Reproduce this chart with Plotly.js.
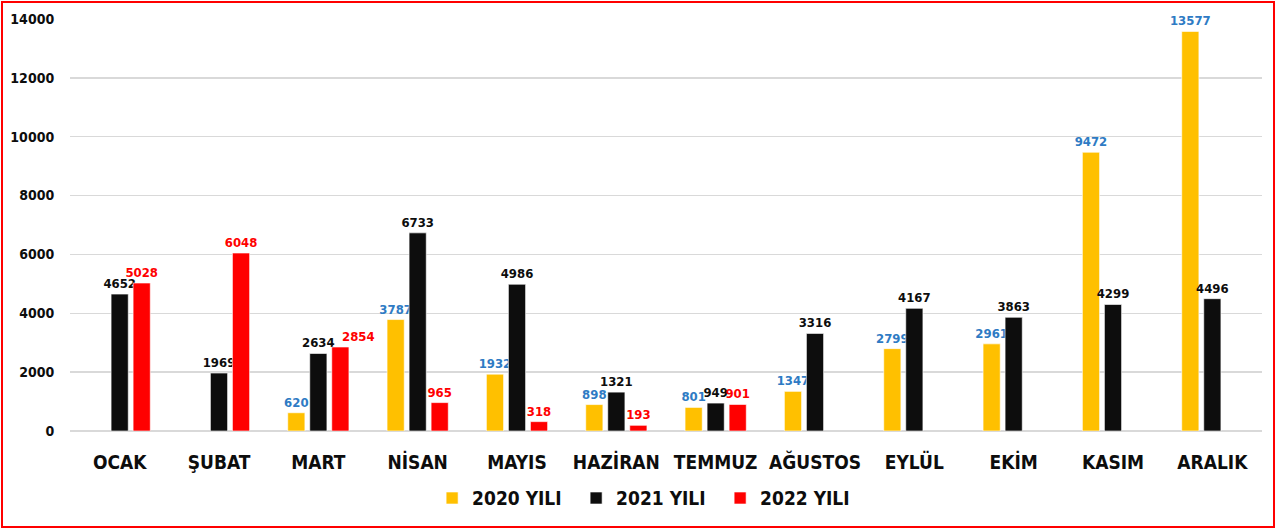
<!DOCTYPE html>
<html><head><meta charset="utf-8">
<script src="https://cdn.plot.ly/plotly-3.0.1.min.js"></script>
<style>
body{margin:0;padding:0;background:#fff;}
#wrap{position:relative;width:1276px;height:529px;}
#chart{width:1276px;height:529px;}
#frame{position:absolute;left:1px;top:1px;width:1270px;height:523px;border:2px solid #ff0000;pointer-events:none;}
</style></head>
<body>
<div id="wrap"><div id="chart"></div><div id="frame"></div></div>
<script>
const months = ["OCAK","ŞUBAT","MART","NİSAN","MAYIS","HAZİRAN","TEMMUZ","AĞUSTOS","EYLÜL","EKİM","KASIM","ARALIK"];
const y2020 = [null,null,620,3787,1932,898,801,1347,2799,2961,9472,13577];
const y2021 = [4652,1969,2634,6733,4986,1321,949,3316,4167,3863,4299,4496];
const y2022 = [5028,6048,2854,965,318,193,901,null,null,null,null,null];
const seriesNames = ["2020 YILI","2021 YILI","2022 YILI"];
const yTicks = [0,2000,4000,6000,8000,10000,12000,14000];

const FONT = "'DejaVu Sans Condensed', 'DejaVu Sans', sans-serif";
const movedIdx = 2; // MART 2022 label is placed to the right of its bar, as in the reference
function lbl(a, skip){
  return a.map((v,i)=>(v==null||i===skip)?"":String(v));
}
function tr(name,vals,color,tcolor,skip){
  return {type:"bar",name:name,x:months,y:vals,text:lbl(vals,skip),textposition:"outside",
    cliponaxis:false,constraintext:"none",
    textfont:{family:FONT,size:13,color:tcolor,weight:"bold"},
    marker:{color:color,line:{color:"rgba(255,255,255,0.6)",width:1}},
    hoverinfo:"x+y"};
}
const data=[tr(seriesNames[0],y2020,"#FFC000","#2E7BC4",-1),
            tr(seriesNames[1],y2021,"#0D0D0D","#0D0D0D",-1),
            tr(seriesNames[2],y2022,"#FF0000","#FF0000",movedIdx)];
const layout={
  width:1276,height:529,
  margin:{l:70,r:14,t:19,b:98},
  paper_bgcolor:"#fff",plot_bgcolor:"#fff",
  barmode:"group",bargap:0.335,bargroupgap:0.22,
  font:{family:FONT,color:"#0D0D0D"},
  xaxis:{type:"category",showgrid:false,zeroline:false,showline:false,
    ticks:"outside",ticklen:14,tickcolor:"rgba(0,0,0,0)",
    tickfont:{family:FONT,size:19,weight:"bold",color:"#0D0D0D"}},
  yaxis:{range:[0,14000],tickvals:yTicks,ticktext:yTicks.map(String),
    showgrid:true,gridcolor:"#D9D9D9",gridwidth:1.5,zeroline:true,zerolinecolor:"#D9D9D9",zerolinewidth:1.5,
    showline:false,ticks:"outside",ticklen:12,tickcolor:"rgba(0,0,0,0)",
    tickfont:{family:FONT,size:14,weight:"bold",color:"#0D0D0D"}},
  legend:{orientation:"h",x:0.485,xanchor:"center",y:-0.163,yanchor:"middle",
    font:{family:FONT,size:19,weight:"bold",color:"#0D0D0D"},itemwidth:30,entrywidth:99,traceorder:"normal"},
  annotations:[{xref:"x",yref:"y",x:months[movedIdx],y:y2022[movedIdx],text:String(y2022[movedIdx]),
    showarrow:false,xanchor:"center",yanchor:"bottom",xshift:40,yshift:1,
    font:{family:FONT,size:13,color:"#FF0000",weight:"bold"}}],
  showlegend:true
};
Plotly.newPlot("chart",data,layout,{displayModeBar:false,staticPlot:true});
</script>
</body></html>
